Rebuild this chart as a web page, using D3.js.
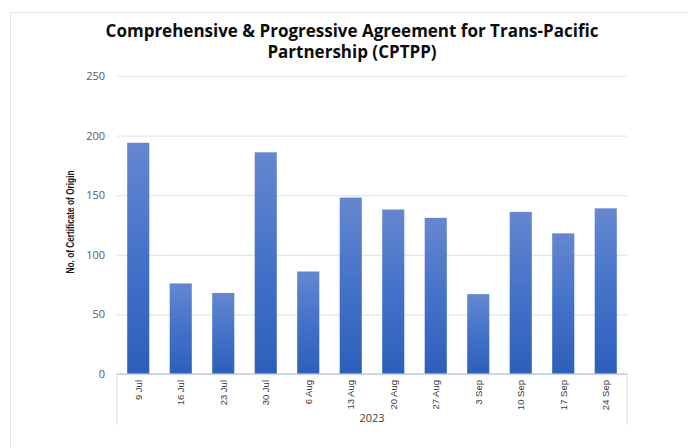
<!DOCTYPE html>
<html>
<head>
<meta charset="utf-8">
<script src="https://cdn.jsdelivr.net/npm/d3@7"></script>
<style>
  body { margin: 0; background: #fff; }
  svg { display: block; font-family: "Liberation Sans", Arial, sans-serif; }
</style>
</head>
<body>
<svg id="chart" width="688" height="448"></svg>
<script>
// DATA
const weeks = ["9 Jul", "16 Jul", "23 Jul", "30 Jul", "6 Aug", "13 Aug",
               "20 Aug", "27 Aug", "3 Sep", "10 Sep", "17 Sep", "24 Sep"];
const certificates = [194, 76, 68, 186, 86, 148, 138, 131, 67, 136, 118, 139];
const yTicks = [0, 50, 100, 150, 200, 250];
const yearLabel = "2023";
const titleLines = ["Comprehensive & Progressive Agreement for Trans-Pacific",
                    "Partnership (CPTPP)"];
const yLabel = "No. of Certificate of Origin";

const data = weeks.map((w, i) => ({ week: w, value: certificates[i] }));

// SETUP
const margin = { top: 76, right: 61, bottom: 74, left: 117 },
      width = 688 - margin.left - margin.right,
      height = 448 - margin.top - margin.bottom;

const svg = d3.select("#chart");

// outer chart frame
svg.append("rect")
    .attr("x", 10.5).attr("y", 12.5)
    .attr("width", 700).attr("height", 460)
    .attr("fill", "none")
    .attr("stroke", "#e3e6ec");

// bar gradient
const grad = svg.append("defs").append("linearGradient")
    .attr("id", "barGrad")
    .attr("x1", 0).attr("y1", 0).attr("x2", 0).attr("y2", 1);
grad.append("stop").attr("offset", "0%").attr("stop-color", "#6587cf");
grad.append("stop").attr("offset", "50%").attr("stop-color", "#4472c9");
grad.append("stop").attr("offset", "100%").attr("stop-color", "#2d5fba");

const g = svg.append("g")
    .attr("transform", `translate(${margin.left},${margin.top})`);

// SCALES
const x = d3.scaleBand()
    .domain(weeks)
    .range([0, width])
    .paddingInner(0.48)
    .paddingOuter(0.24);

const y = d3.scaleLinear()
    .domain([0, 250])
    .range([height, 0]);

// GRIDLINES
g.append("g")
    .call(d3.axisLeft(y).tickValues(yTicks).tickSize(-width).tickFormat(""))
    .call(s => s.select(".domain").remove())
    .call(s => s.selectAll("line").attr("stroke", "#e4e6ea").attr("stroke-width", 1.2));

// Y tick labels
g.append("g")
    .call(d3.axisLeft(y).tickValues(yTicks).tickSize(0).tickPadding(12))
    .call(s => s.select(".domain").remove())
    .call(s => s.selectAll("text")
        .attr("fill", "#595959")
        .style("font-size", "11px")
        .style("font-family", "'Open Sans', sans-serif"));

// BARS
g.selectAll(".bar")
    .data(data)
    .enter()
    .append("rect")
    .attr("class", "bar")
    .attr("x", d => x(d.week))
    .attr("y", d => y(d.value))
    .attr("width", x.bandwidth())
    .attr("height", d => height - y(d.value))
    .attr("fill", "url(#barGrad)");

// X AXIS (category + year box)
const boxH = 51;
g.append("g")
    .attr("transform", `translate(0,${height})`)
    .call(d3.axisBottom(x).tickSize(0).tickPadding(0))
    .call(s => s.select(".domain").remove())
    .call(s => s.selectAll("text")
        .attr("transform", "rotate(-90)")
        .attr("text-anchor", "end")
        .attr("x", -6)
        .attr("y", 0)
        .attr("dy", "0.35em")
        .attr("fill", "#3a3a3a")
        .style("font-size", "9.5px"));

g.append("path")
    .attr("d", `M0,${height + boxH}V${height}H${width}V${height + boxH}`)
    .attr("fill", "none")
    .attr("stroke", "#dfe3ea")
    .attr("stroke-width", 1.2);

g.append("line")
    .attr("x1", 0).attr("x2", width)
    .attr("y1", height).attr("y2", height)
    .attr("stroke", "#8ea6d8")
    .attr("stroke-opacity", 0.6)
    .attr("stroke-width", 1.2);

g.append("text")
    .attr("x", width / 2)
    .attr("y", height + 48)
    .attr("text-anchor", "middle")
    .attr("fill", "#404040")
    .style("font-size", "11px")
    .style("font-family", "'Open Sans', sans-serif")
    .text(yearLabel);

// Y AXIS LABEL
svg.append("text")
    .attr("transform", "rotate(-90)")
    .attr("x", -222)
    .attr("y", 74)
    .attr("text-anchor", "middle")
    .attr("fill", "#1a1a1a")
    .attr("textLength", 103)
    .attr("lengthAdjust", "spacingAndGlyphs")
    .style("font-size", "10px")
    .style("font-weight", "bold")
    .text(yLabel);

// TITLE
svg.selectAll(".title")
    .data(titleLines)
    .enter()
    .append("text")
    .attr("class", "title")
    .attr("x", 352)
    .attr("y", (d, i) => 37 + i * 21)
    .attr("text-anchor", "middle")
    .attr("fill", "#0d0d0d")
    .style("font-size", "17px")
    .style("font-weight", "bold")
    .style("font-family", "'Open Sans', sans-serif")
    .text(d => d);
</script>
</body>
</html>
